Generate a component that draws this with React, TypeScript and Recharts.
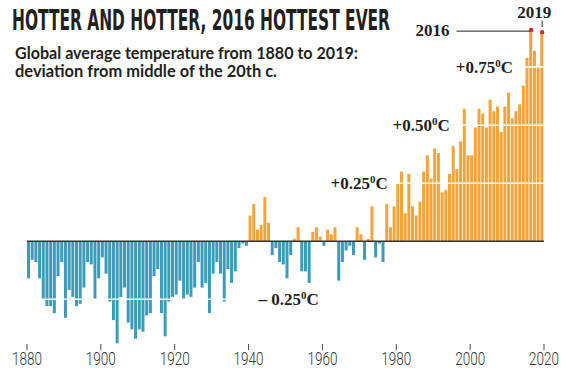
import { BarChart, Bar, XAxis, YAxis, Cell, ReferenceLine, ReferenceDot } from "recharts";

// yearly anomaly, deg C (1880 ... 2019)
const firstYear = 1880;
const anomalies = [
  -0.16, -0.08, -0.09, -0.16, -0.25, -0.28, -0.28, -0.31, -0.15, -0.09,
  -0.33, -0.21, -0.24, -0.28, -0.27, -0.2, -0.09, -0.1, -0.25, -0.16,
  -0.07, -0.14, -0.26, -0.34, -0.44, -0.24, -0.2, -0.35, -0.38, -0.42,
  -0.38, -0.39, -0.32, -0.31, -0.15, -0.12, -0.31, -0.41, -0.26, -0.24,
  -0.23, -0.17, -0.25, -0.23, -0.24, -0.2, -0.09, -0.2, -0.18, -0.31,
  -0.14, -0.09, -0.14, -0.26, -0.12, -0.18, -0.13, -0.03, -0.01, -0.02,
  0.11, 0.16, 0.05, 0.07, 0.19, 0.08, -0.06, -0.03, -0.09, -0.1,
  -0.16, -0.06, 0.01, 0.06, -0.13, -0.13, -0.18, 0.04, 0.06, 0.02,
  -0.02, 0.05, 0.03, 0.06, -0.17, -0.09, -0.04, -0.02, -0.06, 0.06,
  0.03, -0.08, 0.01, 0.15, -0.07, -0.01, -0.09, 0.16, 0.06, 0.15,
  0.25, 0.3, 0.12, 0.29, 0.15, 0.11, 0.17, 0.3, 0.37, 0.27,
  0.4, 0.38, 0.21, 0.22, 0.29, 0.41, 0.31, 0.43, 0.57, 0.37,
  0.37, 0.49, 0.57, 0.55, 0.49, 0.61, 0.56, 0.58, 0.47, 0.58,
  0.64, 0.53, 0.56, 0.59, 0.67, 0.79, 0.91, 0.82, 0.75, 0.9,
];
const yearTicks = [1880, 1900, 1920, 1940, 1960, 1980, 2000, 2020];
const gridLevels = [0.25, 0.5, 0.75, -0.25];
const gridLabels = ["+0.25", "+0.50", "+0.75", "\u2013 0.25"];
const highlightYears = [2016, 2019];

const ORANGE = "#F2A33A";
const BLUE = "#3A9CBB";
const INK = "#231F20";
const SERIF = "'Liberation Serif', 'DejaVu Serif', serif";

const data = anomalies.map((value, i) => ({ year: firstYear + i, value }));
const valueOf = (year: number) => anomalies[year - firstYear];
// where each degree label starts (x in years)
const labelAnchor = [1962.2, 1979, 1996.1, 1942.7];

const YearTick = ({ x, y, payload }: any) => (
  <text
    x={x}
    y={y}
    dy="0.71em"
    textAnchor="middle"
    fill="#333"
    fontFamily="Roboto, sans-serif"
    fontWeight={300}
    fontSize={18}
    textLength={30}
    lengthAdjust="spacingAndGlyphs"
  >
    {payload.value}
  </text>
);

const degreeLabel = (text: string) => (props: any) => {
  const { x, y } = props.viewBox;
  return (
    <text x={x} y={y} dy="0.36em" fill={INK} fontFamily={SERIF} fontWeight={700} fontSize={17}>
      {text}
      <tspan fontSize={11} dy={-6}>0</tspan>
      <tspan dy={6}>C</tspan>
    </text>
  );
};

const yearLabel = (text: string, dx: number, dy: number, anchor: string) => (props: any) => {
  const { x, y } = props.viewBox;
  return (
    <text x={x + dx} y={y + dy} textAnchor={anchor} fill={INK} fontFamily={SERIF} fontWeight={700} fontSize={17}>
      {text}
    </text>
  );
};

export default function App() {
  const v2016 = valueOf(2016);
  const v2019 = valueOf(2019);
  return (
    <div style={{ position: "absolute", left: 0, top: 0, width: 566, height: 380, background: "#fff" }}>
      <BarChart width={566} height={380} data={data} margin={{ top: 20, right: 22, bottom: 6, left: 27 }}>
        <XAxis
          type="number"
          dataKey={(d: any) => d.year + 0.5}
          domain={[1880, 2020]}
          ticks={yearTicks}
          axisLine={false}
          tickLine={{ stroke: "#444" }}
          tickSize={6}
          tickMargin={2}
          tick={<YearTick />}
          height={30}
        />
        <YAxis hide domain={[-0.443, 0.953]} allowDataOverflow />
        <Bar dataKey="value" barSize={3} isAnimationActive={false}>
          {data.map((d) => (
            <Cell key={d.year} fill={d.value >= 0 ? ORANGE : BLUE} />
          ))}
        </Bar>
        {gridLevels.map((lvl) => (
          <ReferenceLine key={lvl} y={lvl} stroke="#fff" strokeWidth={1.5} />
        ))}
        <ReferenceLine y={0} stroke="#333" strokeWidth={1.5} />
        {gridLevels.map((lvl, i) => (
          <ReferenceDot
            key={"l" + lvl}
            x={labelAnchor[i]}
            y={lvl}
            r={0}
            fill="none"
            stroke="none"
            label={degreeLabel(gridLabels[i])}
          />
        ))}
        <ReferenceLine
          segment={[
            { x: 1996.3, y: v2016 - 0.005 },
            { x: 2016.3, y: v2016 - 0.005 },
          ]}
          stroke={INK}
          strokeWidth={1}
        />
        <ReferenceDot x={1996.3} y={v2016} r={0} fill="none" stroke="none" label={yearLabel("2016", -7, 6, "end")} />
        <ReferenceLine
          segment={[
            { x: 2019.5, y: v2019 + 0.022 },
            { x: 2019.5, y: v2019 + 0.05 },
          ]}
          stroke={INK}
          strokeWidth={1}
        />
        <ReferenceDot x={2019.5} y={v2019 + 0.05} r={0} fill="none" stroke="none" label={yearLabel("2019", 9, -3, "end")} />
        {highlightYears.map((yr) => (
          <ReferenceDot key={yr} x={yr + 0.5} y={valueOf(yr)} r={2.2} fill="#C8312B" stroke="none" />
        ))}
      </BarChart>
      <svg width={400} height={90} style={{ position: "absolute", left: 0, top: 0, pointerEvents: "none" }}>
        <text
          x={12}
          y={30}
          fill={INK}
          fontFamily="'Liberation Sans Narrow', 'DejaVu Sans Condensed', Roboto, sans-serif"
          fontWeight={700}
          fontSize={28}
          textLength={378}
          lengthAdjust="spacingAndGlyphs"
        >
          HOTTER AND HOTTER, 2016 HOTTEST EVER
        </text>
        <text x={15} y={59} fill={INK} fontFamily="Lato, sans-serif" fontWeight={700} fontSize={17} textLength={343} lengthAdjust="spacingAndGlyphs">
          Global average temperature from 1880 to 2019:
        </text>
        <text x={15} y={77} fill={INK} fontFamily="Lato, sans-serif" fontWeight={700} fontSize={17} textLength={262} lengthAdjust="spacingAndGlyphs">
          deviation from middle of the 20th c.
        </text>
      </svg>
    </div>
  );
}
